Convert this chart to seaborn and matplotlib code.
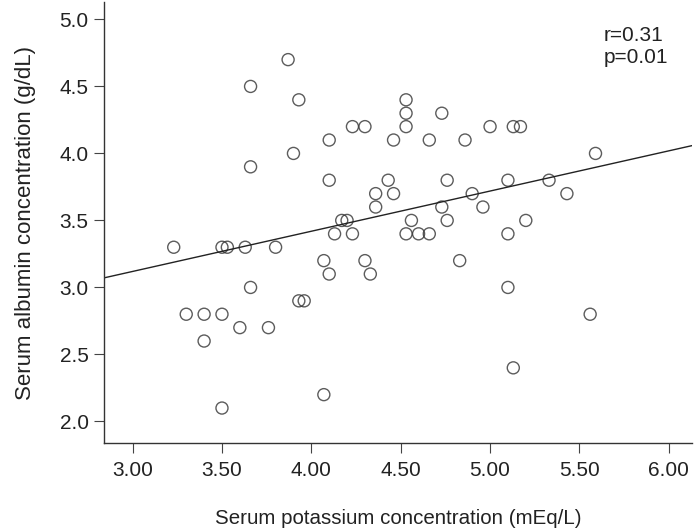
import matplotlib
matplotlib.use("Agg")
import matplotlib.pyplot as plt
import pandas as pd
import seaborn as sns

# Values
potassium = [3.66, 3.66, 3.87, 3.93, 3.90, 4.10, 4.10, 4.23, 4.30, 4.53,
             4.53, 4.53, 4.46, 4.73, 4.66, 4.86, 4.43, 4.36, 4.46, 4.36,
             4.76, 4.73, 4.90, 4.96, 4.17, 4.20, 4.56, 4.76, 5.00, 5.13,
             5.17, 5.59, 5.10, 5.33, 5.43, 5.20, 3.23, 3.50, 3.53, 3.63,
             3.80, 3.66, 3.30, 3.40, 3.50, 3.60, 3.76, 3.40, 3.50, 4.13,
             4.23, 4.53, 4.60, 4.66, 4.07, 4.30, 4.83, 4.10, 4.33, 3.93,
             3.96, 4.07, 5.10, 5.10, 5.56, 5.13]
albumin = [4.5, 3.9, 4.7, 4.4, 4.0, 4.1, 3.8, 4.2, 4.2, 4.4,
           4.3, 4.2, 4.1, 4.3, 4.1, 4.1, 3.8, 3.7, 3.7, 3.6,
           3.8, 3.6, 3.7, 3.6, 3.5, 3.5, 3.5, 3.5, 4.2, 4.2,
           4.2, 4.0, 3.8, 3.8, 3.7, 3.5, 3.3, 3.3, 3.3, 3.3,
           3.3, 3.0, 2.8, 2.8, 2.8, 2.7, 2.7, 2.6, 2.1, 3.4,
           3.4, 3.4, 3.4, 3.4, 3.2, 3.2, 3.2, 3.1, 3.1, 2.9,
           2.9, 2.2, 3.4, 3.0, 2.8, 2.4]
x_ticks = [3.0, 3.5, 4.0, 4.5, 5.0, 5.5, 6.0]
y_ticks = [2.0, 2.5, 3.0, 3.5, 4.0, 4.5, 5.0]
stats_text = "r=0.31\np=0.01"

df = pd.DataFrame({"potassium": potassium, "albumin": albumin})

sns.set_style("white")
plt.rcParams["font.family"] = ["Liberation Sans", "DejaVu Sans"]

fig = plt.figure(figsize=(7, 5.32), dpi=100)
ax = fig.add_axes([0.1486, 0.167, 0.84, 0.829])
ax.set_xlim(2.84, 6.13)
ax.set_ylim(1.838, 5.129)

sns.regplot(x="potassium", y="albumin", data=df, ax=ax, ci=None, truncate=False,
            scatter_kws=dict(s=75, facecolors="none", edgecolors="#333333", linewidths=1.0),
            line_kws=dict(color="#222222", linewidth=1.0))

ax.set_xticks(x_ticks)
ax.set_xticklabels([f"{t:.2f}" for t in x_ticks])
ax.set_yticks(y_ticks)
ax.set_yticklabels([f"{t:.1f}" for t in y_ticks])
ax.tick_params(axis="x", direction="out", length=7.5, width=0.8, color="#444444",
               labelsize=15, pad=5, bottom=True, labelcolor="#222222")
ax.tick_params(axis="y", direction="out", length=7, width=0.8, color="#444444",
               labelsize=15, pad=4, left=True, labelcolor="#222222")

sns.despine(ax=ax)
for side in ["left", "bottom"]:
    ax.spines[side].set_color("#333333")
    ax.spines[side].set_linewidth(1.0)

ax.set_xlabel("Serum potassium concentration (mEq/L)", fontsize=14.8,
              labelpad=21, color="#222222")
ax.set_ylabel("Serum albumin concentration (g/dL)", fontsize=16,
              labelpad=17, color="#222222")

ax.text(0.849, 0.945, stats_text, transform=ax.transAxes, fontsize=15,
        va="top", ha="left", linespacing=1.15, color="#222222")

fig.savefig("out.png", dpi=100)
